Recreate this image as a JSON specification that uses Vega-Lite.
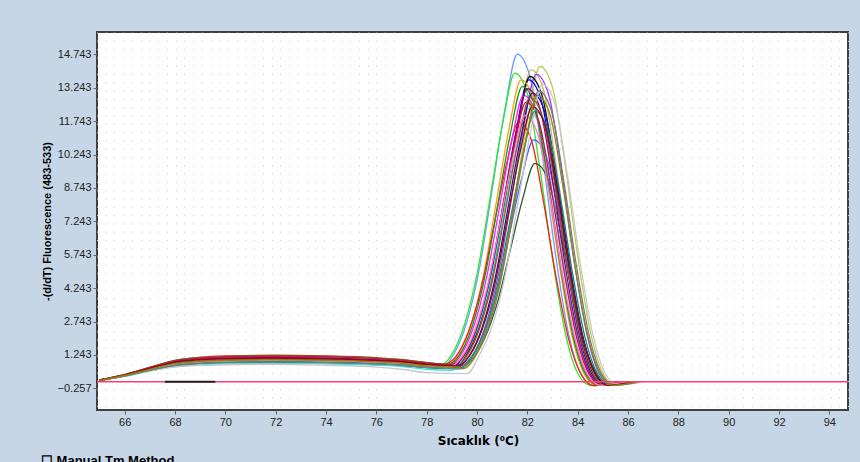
{
"$schema": "https://vega.github.io/schema/vega-lite/v6.json",
"width": 751, "height": 378,
"autosize": {"type": "none"},
"padding": {"left": 97, "top": 32, "right": 12, "bottom": 52},
"background": "#c6d6e6",
"config": {"view": {"fill": "white", "stroke": "#404040", "strokeWidth": 2}},
"title": {"text": "☐ Manual Tm Method", "orient": "bottom", "anchor": "start", "font": "Liberation Sans", "fontSize": 13, "fontWeight": "bold", "color": "#000", "offset": 9},
"layer": [
{"data": {"values": [{"g": 0}]}, "mark": {"type": "rule", "opacity": 0},
 "encoding": {"x": {"field": "g", "type": "quantitative", "scale": {"domain": [0, 86], "nice": false},
  "axis": {"orient": "top", "tickCount": 86, "labels": false, "ticks": false, "domain": false, "title": null, "grid": true, "gridColor": "#c4c4c4", "gridDash": [1, 7.3], "gridWidth": 1}}}},
{"layer": [
{"data": {"values": [
{"s":"s01","t":65,"v":0.1},{"s":"s01","t":66,"v":0.32},{"s":"s01","t":67,"v":0.6},{"s":"s01","t":68,"v":0.85},{"s":"s01","t":69,"v":0.95},{"s":"s01","t":70,"v":1.0},{"s":"s01","t":72,"v":1.02},{"s":"s01","t":74,"v":1.0},{"s":"s01","t":76,"v":0.93},{"s":"s01","t":77,"v":0.87},{"s":"s01","t":78,"v":0.75},
{"s":"s01","t":78.6,"v":0.7},{"s":"s01","t":79.1,"v":1.32},{"s":"s01","t":79.6,"v":2.74},{"s":"s01","t":80.1,"v":5.16},{"s":"s01","t":80.6,"v":8.66},{"s":"s01","t":81.1,"v":12.22},{"s":"s01","t":81.6,"v":14.75},{"s":"s01","t":82.1,"v":13.76},{"s":"s01","t":82.6,"v":10.18},{"s":"s01","t":83.1,"v":5.9},{"s":"s01","t":83.6,"v":2.4},{"s":"s01","t":84.1,"v":0.44},{"s":"s01","t":84.6,"v":-0.12},{"s":"s01","t":85.1,"v":-0.07},{"s":"s01","t":85.6,"v":0.03},
{"s":"s02","t":65,"v":0.11},{"s":"s02","t":66,"v":0.34},{"s":"s02","t":67,"v":0.64},{"s":"s02","t":68,"v":0.94},{"s":"s02","t":69,"v":1.05},{"s":"s02","t":70,"v":1.1},{"s":"s02","t":72,"v":1.12},{"s":"s02","t":74,"v":1.1},{"s":"s02","t":76,"v":1.02},{"s":"s02","t":77,"v":0.96},{"s":"s02","t":78,"v":0.83},
{"s":"s02","t":78.5,"v":0.76},{"s":"s02","t":79,"v":1.27},{"s":"s02","t":79.5,"v":2.6},{"s":"s02","t":80,"v":4.88},{"s":"s02","t":80.5,"v":8.17},{"s":"s02","t":81,"v":11.52},{"s":"s02","t":81.5,"v":13.9},{"s":"s02","t":82,"v":12.97},{"s":"s02","t":82.5,"v":9.59},{"s":"s02","t":83,"v":5.56},{"s":"s02","t":83.5,"v":2.27},{"s":"s02","t":84,"v":0.42},{"s":"s02","t":84.5,"v":-0.12},{"s":"s02","t":85,"v":-0.07},{"s":"s02","t":85.5,"v":0.03},
{"s":"s03","t":65,"v":0.1},{"s":"s03","t":66,"v":0.3},{"s":"s03","t":67,"v":0.56},{"s":"s03","t":68,"v":0.77},{"s":"s03","t":69,"v":0.86},{"s":"s03","t":70,"v":0.9},{"s":"s03","t":72,"v":0.92},{"s":"s03","t":74,"v":0.9},{"s":"s03","t":76,"v":0.84},{"s":"s03","t":77,"v":0.78},{"s":"s03","t":78,"v":0.68},
{"s":"s03","t":79.5,"v":0.63},{"s":"s03","t":80,"v":1.29},{"s":"s03","t":80.5,"v":2.65},{"s":"s03","t":81,"v":4.98},{"s":"s03","t":81.5,"v":8.34},{"s":"s03","t":82,"v":11.76},{"s":"s03","t":82.5,"v":14.2},{"s":"s03","t":83,"v":13.25},{"s":"s03","t":83.5,"v":9.8},{"s":"s03","t":84,"v":5.68},{"s":"s03","t":84.5,"v":2.31},{"s":"s03","t":85,"v":0.43},{"s":"s03","t":85.5,"v":-0.12},{"s":"s03","t":86,"v":-0.07},{"s":"s03","t":86.5,"v":0.03},
{"s":"s04","t":65,"v":0.1},{"s":"s04","t":66,"v":0.32},{"s":"s04","t":67,"v":0.6},{"s":"s04","t":68,"v":0.85},{"s":"s04","t":69,"v":0.95},{"s":"s04","t":70,"v":1.0},{"s":"s04","t":72,"v":1.02},{"s":"s04","t":74,"v":1.0},{"s":"s04","t":76,"v":0.93},{"s":"s04","t":77,"v":0.87},{"s":"s04","t":78,"v":0.75},
{"s":"s04","t":79.15,"v":0.7},{"s":"s04","t":79.65,"v":1.28},{"s":"s04","t":80.15,"v":2.63},{"s":"s04","t":80.65,"v":4.93},{"s":"s04","t":81.15,"v":8.26},{"s":"s04","t":81.65,"v":11.64},{"s":"s04","t":82.15,"v":14.05},{"s":"s04","t":82.65,"v":13.11},{"s":"s04","t":83.15,"v":9.69},{"s":"s04","t":83.65,"v":5.62},{"s":"s04","t":84.15,"v":2.29},{"s":"s04","t":84.65,"v":0.42},{"s":"s04","t":85.15,"v":-0.12},{"s":"s04","t":85.65,"v":-0.07},{"s":"s04","t":86.15,"v":0.03},
{"s":"s05","t":65,"v":0.1},{"s":"s05","t":66,"v":0.32},{"s":"s05","t":67,"v":0.6},{"s":"s05","t":68,"v":0.85},{"s":"s05","t":69,"v":0.95},{"s":"s05","t":70,"v":1.0},{"s":"s05","t":72,"v":1.02},{"s":"s05","t":74,"v":1.0},{"s":"s05","t":76,"v":0.93},{"s":"s05","t":77,"v":0.87},{"s":"s05","t":78,"v":0.75},
{"s":"s05","t":79.35,"v":0.7},{"s":"s05","t":79.85,"v":1.27},{"s":"s05","t":80.35,"v":2.6},{"s":"s05","t":80.85,"v":4.87},{"s":"s05","t":81.35,"v":8.14},{"s":"s05","t":81.85,"v":11.48},{"s":"s05","t":82.35,"v":13.85},{"s":"s05","t":82.85,"v":12.92},{"s":"s05","t":83.35,"v":9.56},{"s":"s05","t":83.85,"v":5.54},{"s":"s05","t":84.35,"v":2.26},{"s":"s05","t":84.85,"v":0.42},{"s":"s05","t":85.35,"v":-0.12},{"s":"s05","t":85.85,"v":-0.07},{"s":"s05","t":86.35,"v":0.03},
{"s":"s06","t":65,"v":0.11},{"s":"s06","t":66,"v":0.34},{"s":"s06","t":67,"v":0.64},{"s":"s06","t":68,"v":0.94},{"s":"s06","t":69,"v":1.05},{"s":"s06","t":70,"v":1.1},{"s":"s06","t":72,"v":1.12},{"s":"s06","t":74,"v":1.1},{"s":"s06","t":76,"v":1.02},{"s":"s06","t":77,"v":0.96},{"s":"s06","t":78,"v":0.83},
{"s":"s06","t":79.05,"v":0.76},{"s":"s06","t":79.55,"v":1.26},{"s":"s06","t":80.05,"v":2.56},{"s":"s06","t":80.55,"v":4.78},{"s":"s06","t":81.05,"v":8.0},{"s":"s06","t":81.55,"v":11.27},{"s":"s06","t":82.05,"v":13.6},{"s":"s06","t":82.55,"v":12.69},{"s":"s06","t":83.05,"v":9.38},{"s":"s06","t":83.55,"v":5.44},{"s":"s06","t":84.05,"v":2.22},{"s":"s06","t":84.55,"v":0.41},{"s":"s06","t":85.05,"v":-0.12},{"s":"s06","t":85.55,"v":-0.07},{"s":"s06","t":86.05,"v":0.03},
{"s":"s07","t":65,"v":0.1},{"s":"s07","t":66,"v":0.32},{"s":"s07","t":67,"v":0.6},{"s":"s07","t":68,"v":0.85},{"s":"s07","t":69,"v":0.95},{"s":"s07","t":70,"v":1.0},{"s":"s07","t":72,"v":1.02},{"s":"s07","t":74,"v":1.0},{"s":"s07","t":76,"v":0.93},{"s":"s07","t":77,"v":0.87},{"s":"s07","t":78,"v":0.75},
{"s":"s07","t":79.1,"v":0.7},{"s":"s07","t":79.6,"v":1.27},{"s":"s07","t":80.1,"v":2.58},{"s":"s07","t":80.6,"v":4.83},{"s":"s07","t":81.1,"v":8.09},{"s":"s07","t":81.6,"v":11.4},{"s":"s07","t":82.1,"v":13.75},{"s":"s07","t":82.6,"v":12.83},{"s":"s07","t":83.1,"v":9.49},{"s":"s07","t":83.6,"v":5.5},{"s":"s07","t":84.1,"v":2.24},{"s":"s07","t":84.6,"v":0.41},{"s":"s07","t":85.1,"v":-0.12},{"s":"s07","t":85.6,"v":-0.07},{"s":"s07","t":86.1,"v":0.03},
{"s":"s08","t":65,"v":0.11},{"s":"s08","t":66,"v":0.34},{"s":"s08","t":67,"v":0.64},{"s":"s08","t":68,"v":0.94},{"s":"s08","t":69,"v":1.05},{"s":"s08","t":70,"v":1.1},{"s":"s08","t":72,"v":1.12},{"s":"s08","t":74,"v":1.1},{"s":"s08","t":76,"v":1.02},{"s":"s08","t":77,"v":0.96},{"s":"s08","t":78,"v":0.83},
{"s":"s08","t":78.75,"v":0.76},{"s":"s08","t":79.25,"v":1.26},{"s":"s08","t":79.75,"v":2.56},{"s":"s08","t":80.25,"v":4.78},{"s":"s08","t":80.75,"v":8.0},{"s":"s08","t":81.25,"v":11.27},{"s":"s08","t":81.75,"v":13.6},{"s":"s08","t":82.25,"v":12.69},{"s":"s08","t":82.75,"v":9.38},{"s":"s08","t":83.25,"v":5.44},{"s":"s08","t":83.75,"v":2.22},{"s":"s08","t":84.25,"v":0.41},{"s":"s08","t":84.75,"v":-0.12},{"s":"s08","t":85.25,"v":-0.07},{"s":"s08","t":85.75,"v":0.03},
{"s":"s09","t":65,"v":0.12},{"s":"s09","t":66,"v":0.36},{"s":"s09","t":67,"v":0.68},{"s":"s09","t":68,"v":1.0},{"s":"s09","t":69,"v":1.14},{"s":"s09","t":70,"v":1.2},{"s":"s09","t":72,"v":1.23},{"s":"s09","t":74,"v":1.2},{"s":"s09","t":76,"v":1.12},{"s":"s09","t":77,"v":1.04},{"s":"s09","t":78,"v":0.9},
{"s":"s09","t":78.65,"v":0.82},{"s":"s09","t":79.15,"v":1.16},{"s":"s09","t":79.65,"v":2.26},{"s":"s09","t":80.15,"v":4.16},{"s":"s09","t":80.65,"v":6.92},{"s":"s09","t":81.15,"v":9.71},{"s":"s09","t":81.65,"v":11.7},{"s":"s09","t":82.15,"v":10.92},{"s":"s09","t":82.65,"v":8.07},{"s":"s09","t":83.15,"v":4.68},{"s":"s09","t":83.65,"v":1.91},{"s":"s09","t":84.15,"v":0.35},{"s":"s09","t":84.65,"v":-0.14},{"s":"s09","t":85.15,"v":-0.08},{"s":"s09","t":85.65,"v":0.03},
{"s":"s10","t":65,"v":0.1},{"s":"s10","t":66,"v":0.32},{"s":"s10","t":67,"v":0.6},{"s":"s10","t":68,"v":0.85},{"s":"s10","t":69,"v":0.95},{"s":"s10","t":70,"v":1.0},{"s":"s10","t":72,"v":1.02},{"s":"s10","t":74,"v":1.0},{"s":"s10","t":76,"v":0.93},{"s":"s10","t":77,"v":0.87},{"s":"s10","t":78,"v":0.75},
{"s":"s10","t":79.25,"v":0.7},{"s":"s10","t":79.75,"v":1.12},{"s":"s10","t":80.25,"v":2.14},{"s":"s10","t":80.75,"v":3.9},{"s":"s10","t":81.25,"v":6.46},{"s":"s10","t":81.75,"v":9.06},{"s":"s10","t":82.25,"v":10.9},{"s":"s10","t":82.75,"v":10.17},{"s":"s10","t":83.25,"v":7.52},{"s":"s10","t":83.75,"v":4.36},{"s":"s10","t":84.25,"v":1.78},{"s":"s10","t":84.75,"v":0.33},{"s":"s10","t":85.25,"v":-0.12},{"s":"s10","t":85.75,"v":-0.07},{"s":"s10","t":86.25,"v":0.03},
{"s":"s11","t":65,"v":0.1},{"s":"s11","t":66,"v":0.3},{"s":"s11","t":67,"v":0.56},{"s":"s11","t":68,"v":0.77},{"s":"s11","t":69,"v":0.86},{"s":"s11","t":70,"v":0.9},{"s":"s11","t":72,"v":0.92},{"s":"s11","t":74,"v":0.9},{"s":"s11","t":76,"v":0.84},{"s":"s11","t":77,"v":0.78},{"s":"s11","t":78,"v":0.68},
{"s":"s11","t":79.3,"v":0.63},{"s":"s11","t":79.8,"v":1.06},{"s":"s11","t":80.3,"v":1.98},{"s":"s11","t":80.8,"v":3.56},{"s":"s11","t":81.3,"v":5.86},{"s":"s11","t":81.8,"v":8.2},{"s":"s11","t":82.3,"v":9.85},{"s":"s11","t":82.8,"v":9.19},{"s":"s11","t":83.3,"v":6.8},{"s":"s11","t":83.8,"v":3.94},{"s":"s11","t":84.3,"v":1.61},{"s":"s11","t":84.8,"v":0.3},{"s":"s11","t":85.3,"v":-0.12},{"s":"s11","t":85.8,"v":-0.07},{"s":"s11","t":86.3,"v":0.03},
{"s":"s12","t":65,"v":0.09},{"s":"s12","t":66,"v":0.28},{"s":"s12","t":67,"v":0.52},{"s":"s12","t":68,"v":0.72},{"s":"s12","t":69,"v":0.8},{"s":"s12","t":70,"v":0.84},{"s":"s12","t":72,"v":0.86},{"s":"s12","t":74,"v":0.84},{"s":"s12","t":76,"v":0.78},{"s":"s12","t":77,"v":0.72},{"s":"s12","t":78,"v":0.6},
{"s":"s12","t":79,"v":0.55},{"s":"s12","t":79.5,"v":1.19},{"s":"s12","t":80,"v":2.36},{"s":"s12","t":80.5,"v":4.36},{"s":"s12","t":81,"v":7.26},{"s":"s12","t":81.5,"v":10.21},{"s":"s12","t":82,"v":12.3},{"s":"s12","t":82.5,"v":11.48},{"s":"s12","t":83,"v":8.49},{"s":"s12","t":83.5,"v":4.92},{"s":"s12","t":84,"v":2.0},{"s":"s12","t":84.5,"v":0.37},{"s":"s12","t":85,"v":-0.12},{"s":"s12","t":85.5,"v":-0.07},{"s":"s12","t":86,"v":0.03},
{"s":"s13","t":65,"v":0.11},{"s":"s13","t":66,"v":0.34},{"s":"s13","t":67,"v":0.64},{"s":"s13","t":68,"v":0.94},{"s":"s13","t":69,"v":1.05},{"s":"s13","t":70,"v":1.1},{"s":"s13","t":72,"v":1.12},{"s":"s13","t":74,"v":1.1},{"s":"s13","t":76,"v":1.02},{"s":"s13","t":77,"v":0.96},{"s":"s13","t":78,"v":0.83},
{"s":"s13","t":78.85,"v":0.76},{"s":"s13","t":79.35,"v":1.22},{"s":"s13","t":79.85,"v":2.45},{"s":"s13","t":80.35,"v":4.56},{"s":"s13","t":80.85,"v":7.6},{"s":"s13","t":81.35,"v":10.7},{"s":"s13","t":81.85,"v":12.9},{"s":"s13","t":82.35,"v":12.04},{"s":"s13","t":82.85,"v":8.9},{"s":"s13","t":83.35,"v":5.16},{"s":"s13","t":83.85,"v":2.1},{"s":"s13","t":84.35,"v":0.39},{"s":"s13","t":84.85,"v":-0.12},{"s":"s13","t":85.35,"v":-0.07},{"s":"s13","t":85.85,"v":0.03},
{"s":"s14","t":65,"v":0.12},{"s":"s14","t":66,"v":0.36},{"s":"s14","t":67,"v":0.68},{"s":"s14","t":68,"v":1.0},{"s":"s14","t":69,"v":1.12},{"s":"s14","t":70,"v":1.17},{"s":"s14","t":72,"v":1.2},{"s":"s14","t":74,"v":1.18},{"s":"s14","t":76,"v":1.1},{"s":"s14","t":77,"v":1.02},{"s":"s14","t":78,"v":0.9},
{"s":"s14","t":78.8,"v":0.82},{"s":"s14","t":79.3,"v":1.24},{"s":"s14","t":79.8,"v":2.51},{"s":"s14","t":80.3,"v":4.69},{"s":"s14","t":80.8,"v":7.83},{"s":"s14","t":81.3,"v":11.03},{"s":"s14","t":81.8,"v":13.3},{"s":"s14","t":82.3,"v":12.41},{"s":"s14","t":82.8,"v":9.18},{"s":"s14","t":83.3,"v":5.32},{"s":"s14","t":83.8,"v":2.17},{"s":"s14","t":84.3,"v":0.4},{"s":"s14","t":84.8,"v":-0.12},{"s":"s14","t":85.3,"v":-0.07},{"s":"s14","t":85.8,"v":0.03},
{"s":"s15","t":65,"v":0.1},{"s":"s15","t":66,"v":0.32},{"s":"s15","t":67,"v":0.6},{"s":"s15","t":68,"v":0.85},{"s":"s15","t":69,"v":0.95},{"s":"s15","t":70,"v":1.0},{"s":"s15","t":72,"v":1.02},{"s":"s15","t":74,"v":1.0},{"s":"s15","t":76,"v":0.93},{"s":"s15","t":77,"v":0.87},{"s":"s15","t":78,"v":0.75},
{"s":"s15","t":79.2,"v":0.7},{"s":"s15","t":79.7,"v":1.23},{"s":"s15","t":80.2,"v":2.47},{"s":"s15","t":80.7,"v":4.59},{"s":"s15","t":81.2,"v":7.66},{"s":"s15","t":81.7,"v":10.78},{"s":"s15","t":82.2,"v":13.0},{"s":"s15","t":82.7,"v":12.13},{"s":"s15","t":83.2,"v":8.97},{"s":"s15","t":83.7,"v":5.2},{"s":"s15","t":84.2,"v":2.12},{"s":"s15","t":84.7,"v":0.39},{"s":"s15","t":85.2,"v":-0.12},{"s":"s15","t":85.7,"v":-0.07},{"s":"s15","t":86.2,"v":0.03},
{"s":"s16","t":65,"v":0.11},{"s":"s16","t":66,"v":0.34},{"s":"s16","t":67,"v":0.64},{"s":"s16","t":68,"v":0.94},{"s":"s16","t":69,"v":1.05},{"s":"s16","t":70,"v":1.1},{"s":"s16","t":72,"v":1.12},{"s":"s16","t":74,"v":1.1},{"s":"s16","t":76,"v":1.02},{"s":"s16","t":77,"v":0.96},{"s":"s16","t":78,"v":0.83},
{"s":"s16","t":79,"v":0.76},{"s":"s16","t":79.5,"v":1.24},{"s":"s16","t":80,"v":2.5},{"s":"s16","t":80.5,"v":4.65},{"s":"s16","t":81,"v":7.77},{"s":"s16","t":81.5,"v":10.94},{"s":"s16","t":82,"v":13.2},{"s":"s16","t":82.5,"v":12.32},{"s":"s16","t":83,"v":9.11},{"s":"s16","t":83.5,"v":5.28},{"s":"s16","t":84,"v":2.15},{"s":"s16","t":84.5,"v":0.4},{"s":"s16","t":85,"v":-0.12},{"s":"s16","t":85.5,"v":-0.07},{"s":"s16","t":86,"v":0.03},
{"s":"s17","t":65,"v":0.12},{"s":"s17","t":66,"v":0.36},{"s":"s17","t":67,"v":0.68},{"s":"s17","t":68,"v":0.98},{"s":"s17","t":69,"v":1.1},{"s":"s17","t":70,"v":1.15},{"s":"s17","t":72,"v":1.18},{"s":"s17","t":74,"v":1.16},{"s":"s17","t":76,"v":1.08},{"s":"s17","t":77,"v":1.0},{"s":"s17","t":78,"v":0.88},
{"s":"s17","t":78.95,"v":0.82},{"s":"s17","t":79.45,"v":1.2},{"s":"s17","t":79.95,"v":2.4},{"s":"s17","t":80.45,"v":4.46},{"s":"s17","t":80.95,"v":7.43},{"s":"s17","t":81.45,"v":10.45},{"s":"s17","t":81.95,"v":12.6},{"s":"s17","t":82.45,"v":11.76},{"s":"s17","t":82.95,"v":8.69},{"s":"s17","t":83.45,"v":5.04},{"s":"s17","t":83.95,"v":2.05},{"s":"s17","t":84.45,"v":0.38},{"s":"s17","t":84.95,"v":-0.12},{"s":"s17","t":85.45,"v":-0.07},{"s":"s17","t":85.95,"v":0.03},
{"s":"s18","t":65,"v":0.09},{"s":"s18","t":66,"v":0.28},{"s":"s18","t":67,"v":0.52},{"s":"s18","t":68,"v":0.7},{"s":"s18","t":69,"v":0.77},{"s":"s18","t":70,"v":0.8},{"s":"s18","t":72,"v":0.82},{"s":"s18","t":74,"v":0.78},{"s":"s18","t":76,"v":0.7},{"s":"s18","t":77,"v":0.6},{"s":"s18","t":78,"v":0.45},
{"s":"s18","t":79.6,"v":0.4},{"s":"s18","t":80.1,"v":1.25},{"s":"s18","t":80.6,"v":2.53},{"s":"s18","t":81.1,"v":4.72},{"s":"s18","t":81.6,"v":7.89},{"s":"s18","t":82.1,"v":11.11},{"s":"s18","t":82.6,"v":13.4},{"s":"s18","t":83.1,"v":12.5},{"s":"s18","t":83.6,"v":9.25},{"s":"s18","t":84.1,"v":5.36},{"s":"s18","t":84.6,"v":2.18},{"s":"s18","t":85.1,"v":0.4},{"s":"s18","t":85.6,"v":-0.1},{"s":"s18","t":86.1,"v":-0.06},{"s":"s18","t":86.6,"v":0.03},
{"s":"s19","t":65,"v":0.1},{"s":"s19","t":66,"v":0.32},{"s":"s19","t":67,"v":0.6},{"s":"s19","t":68,"v":0.85},{"s":"s19","t":69,"v":0.97},{"s":"s19","t":70,"v":1.03},{"s":"s19","t":72,"v":1.06},{"s":"s19","t":74,"v":1.04},{"s":"s19","t":76,"v":0.97},{"s":"s19","t":77,"v":0.9},{"s":"s19","t":78,"v":0.77},
{"s":"s19","t":79.1,"v":0.7},{"s":"s19","t":79.6,"v":1.22},{"s":"s19","t":80.1,"v":2.43},{"s":"s19","t":80.6,"v":4.52},{"s":"s19","t":81.1,"v":7.55},{"s":"s19","t":81.6,"v":10.62},{"s":"s19","t":82.1,"v":12.8},{"s":"s19","t":82.6,"v":11.94},{"s":"s19","t":83.1,"v":8.83},{"s":"s19","t":83.6,"v":5.12},{"s":"s19","t":84.1,"v":2.09},{"s":"s19","t":84.6,"v":0.38},{"s":"s19","t":85.1,"v":-0.12},{"s":"s19","t":85.6,"v":-0.07},{"s":"s19","t":86.1,"v":0.03},
{"s":"s20","t":65,"v":0.1},{"s":"s20","t":66,"v":0.3},{"s":"s20","t":67,"v":0.56},{"s":"s20","t":68,"v":0.79},{"s":"s20","t":69,"v":0.88},{"s":"s20","t":70,"v":0.93},{"s":"s20","t":72,"v":0.95},{"s":"s20","t":74,"v":0.93},{"s":"s20","t":76,"v":0.86},{"s":"s20","t":77,"v":0.8},{"s":"s20","t":78,"v":0.7},
{"s":"s20","t":79.3,"v":0.63},{"s":"s20","t":79.8,"v":1.18},{"s":"s20","t":80.3,"v":2.34},{"s":"s20","t":80.8,"v":4.33},{"s":"s20","t":81.3,"v":7.2},{"s":"s20","t":81.8,"v":10.12},{"s":"s20","t":82.3,"v":12.2},{"s":"s20","t":82.8,"v":11.38},{"s":"s20","t":83.3,"v":8.42},{"s":"s20","t":83.8,"v":4.88},{"s":"s20","t":84.3,"v":1.99},{"s":"s20","t":84.8,"v":0.37},{"s":"s20","t":85.3,"v":-0.12},{"s":"s20","t":85.8,"v":-0.07},{"s":"s20","t":86.3,"v":0.03},
{"s":"s21","t":65,"v":0.1},{"s":"s21","t":66,"v":0.32},{"s":"s21","t":67,"v":0.6},{"s":"s21","t":68,"v":0.83},{"s":"s21","t":69,"v":0.93},{"s":"s21","t":70,"v":0.98},{"s":"s21","t":72,"v":1.0},{"s":"s21","t":74,"v":0.98},{"s":"s21","t":76,"v":0.91},{"s":"s21","t":77,"v":0.85},{"s":"s21","t":78,"v":0.74},
{"s":"s21","t":78.9,"v":0.7},{"s":"s21","t":79.4,"v":1.17},{"s":"s21","t":79.9,"v":2.31},{"s":"s21","t":80.4,"v":4.26},{"s":"s21","t":80.9,"v":7.09},{"s":"s21","t":81.4,"v":9.96},{"s":"s21","t":81.9,"v":12.0},{"s":"s21","t":82.4,"v":11.2},{"s":"s21","t":82.9,"v":8.28},{"s":"s21","t":83.4,"v":4.8},{"s":"s21","t":83.9,"v":1.96},{"s":"s21","t":84.4,"v":0.36},{"s":"s21","t":84.9,"v":-0.12},{"s":"s21","t":85.4,"v":-0.07},{"s":"s21","t":85.9,"v":0.03},
{"s":"s22","t":65,"v":0.1},{"s":"s22","t":66,"v":0.3},{"s":"s22","t":67,"v":0.56},{"s":"s22","t":68,"v":0.77},{"s":"s22","t":69,"v":0.86},{"s":"s22","t":70,"v":0.9},{"s":"s22","t":72,"v":0.92},{"s":"s22","t":74,"v":0.9},{"s":"s22","t":76,"v":0.84},{"s":"s22","t":77,"v":0.78},{"s":"s22","t":78,"v":0.68},
{"s":"s22","t":79.45,"v":0.63},{"s":"s22","t":79.95,"v":1.23},{"s":"s22","t":80.45,"v":2.48},{"s":"s22","t":80.95,"v":4.62},{"s":"s22","t":81.45,"v":7.72},{"s":"s22","t":81.95,"v":10.86},{"s":"s22","t":82.45,"v":13.1},{"s":"s22","t":82.95,"v":12.22},{"s":"s22","t":83.45,"v":9.04},{"s":"s22","t":83.95,"v":5.24},{"s":"s22","t":84.45,"v":2.14},{"s":"s22","t":84.95,"v":0.39},{"s":"s22","t":85.45,"v":-0.12},{"s":"s22","t":85.95,"v":-0.07},{"s":"s22","t":86.45,"v":0.03},
{"s":"s23","t":65,"v":0.11},{"s":"s23","t":66,"v":0.34},{"s":"s23","t":67,"v":0.64},{"s":"s23","t":68,"v":0.92},{"s":"s23","t":69,"v":1.03},{"s":"s23","t":70,"v":1.08},{"s":"s23","t":72,"v":1.1},{"s":"s23","t":74,"v":1.07},{"s":"s23","t":76,"v":1.0},{"s":"s23","t":77,"v":0.94},{"s":"s23","t":78,"v":0.82},
{"s":"s23","t":79.2,"v":0.76},{"s":"s23","t":79.7,"v":1.2},{"s":"s23","t":80.2,"v":2.37},{"s":"s23","t":80.7,"v":4.39},{"s":"s23","t":81.2,"v":7.32},{"s":"s23","t":81.7,"v":10.29},{"s":"s23","t":82.2,"v":12.4},{"s":"s23","t":82.7,"v":11.57},{"s":"s23","t":83.2,"v":8.56},{"s":"s23","t":83.7,"v":4.96},{"s":"s23","t":84.2,"v":2.02},{"s":"s23","t":84.7,"v":0.37},{"s":"s23","t":85.2,"v":-0.12},{"s":"s23","t":85.7,"v":-0.07},{"s":"s23","t":86.2,"v":0.03},
{"s":"s24","t":65,"v":0.1},{"s":"s24","t":66,"v":0.32},{"s":"s24","t":67,"v":0.6},{"s":"s24","t":68,"v":0.85},{"s":"s24","t":69,"v":0.95},{"s":"s24","t":70,"v":1.0},{"s":"s24","t":72,"v":1.02},{"s":"s24","t":74,"v":1.0},{"s":"s24","t":76,"v":0.93},{"s":"s24","t":77,"v":0.87},{"s":"s24","t":78,"v":0.75},
{"s":"s24","t":79.4,"v":0.7},{"s":"s24","t":79.9,"v":1.22},{"s":"s24","t":80.4,"v":2.45},{"s":"s24","t":80.9,"v":4.56},{"s":"s24","t":81.4,"v":7.6},{"s":"s24","t":81.9,"v":10.7},{"s":"s24","t":82.4,"v":12.9},{"s":"s24","t":82.9,"v":12.04},{"s":"s24","t":83.4,"v":8.9},{"s":"s24","t":83.9,"v":5.16},{"s":"s24","t":84.4,"v":2.1},{"s":"s24","t":84.9,"v":0.39},{"s":"s24","t":85.4,"v":-0.12},{"s":"s24","t":85.9,"v":-0.07},{"s":"s24","t":86.4,"v":0.03}
]},
 "mark": {"type": "line", "interpolate": "monotone", "strokeWidth": 1.3},
 "encoding": {
  "x": {"field": "t", "type": "quantitative", "scale": {"domain": [64.9, 94.74], "nice": false, "zero": false},
   "axis": {"values": [66,68,70,72,74,76,78,80,82,84,86,88,90,92,94], "tickCount": 15, "title": "Sıcaklık (⁰C)", "titleFont": "DejaVu Sans", "titleFontSize": 12, "titleFontWeight": "bold", "titleColor": "#000", "titleX": 381, "titleY": 25, "labelFont": "Liberation Sans", "labelFontSize": 11, "labelColor": "#222", "labelOverlap": false, "tickSize": 4, "tickColor": "#666", "domain": false, "grid": false, "labelPadding": 2}},
  "y": {"field": "v", "type": "quantitative", "scale": {"domain": [-1.23, 15.75], "nice": false, "zero": false},
   "axis": {"values": [-0.257, 1.243, 2.743, 4.243, 5.743, 7.243, 8.743, 10.243, 11.743, 13.243, 14.743], "tickCount": 11, "format": ".3f", "title": "-(d/dT) Fluorescence (483-533)", "titleFont": "Liberation Sans", "titleFontSize": 11, "titleFontWeight": "bold", "titleColor": "#000", "titleX": -45, "titleY": 189, "labelFont": "Liberation Sans", "labelFontSize": 11, "labelColor": "#222", "labelOverlap": false, "tickSize": 4, "tickColor": "#666", "domain": false, "grid": false, "labelPadding": 2}},
  "color": {"field": "s", "type": "nominal", "legend": null,
   "scale": {"domain": ["s01","s02","s03","s04","s05","s06","s07","s08","s09","s10","s11","s12","s13","s14","s15","s16","s17","s18","s19","s20","s21","s22","s23","s24"],
    "range": ["#6f9cff","#2bea2b","#b9cf55","#c9b26e","#9b3cff","#0000ff","#111111","#ff9a1a","#ff1a1a","#5a5aff","#2a5a2a","#2ee6e6","#ff1aff","#0aa00a","#1a1a8c","#8c008c","#d0104a","#c8c8c8","#a0522d","#138a8a","#ff80c0","#7a7a7a","#8b0a0a","#8a8a10"]}}
 }},
{"data": {"values": [{"t": 64.9, "v": 0.04}, {"t": 94.74, "v": 0.04}]},
 "mark": {"type": "line", "color": "#ff3c78", "strokeWidth": 1.3},
 "encoding": {"x": {"field": "t", "type": "quantitative"}, "y": {"field": "v", "type": "quantitative"}}},
{"data": {"values": [{"t": 67.6, "v": 0.04}, {"t": 69.6, "v": 0.04}]},
 "mark": {"type": "line", "color": "#202020", "strokeWidth": 2},
 "encoding": {"x": {"field": "t", "type": "quantitative"}, "y": {"field": "v", "type": "quantitative"}}}
]}
],
"resolve": {"scale": {"x": "independent"}, "axis": {"x": "independent"}}
}
